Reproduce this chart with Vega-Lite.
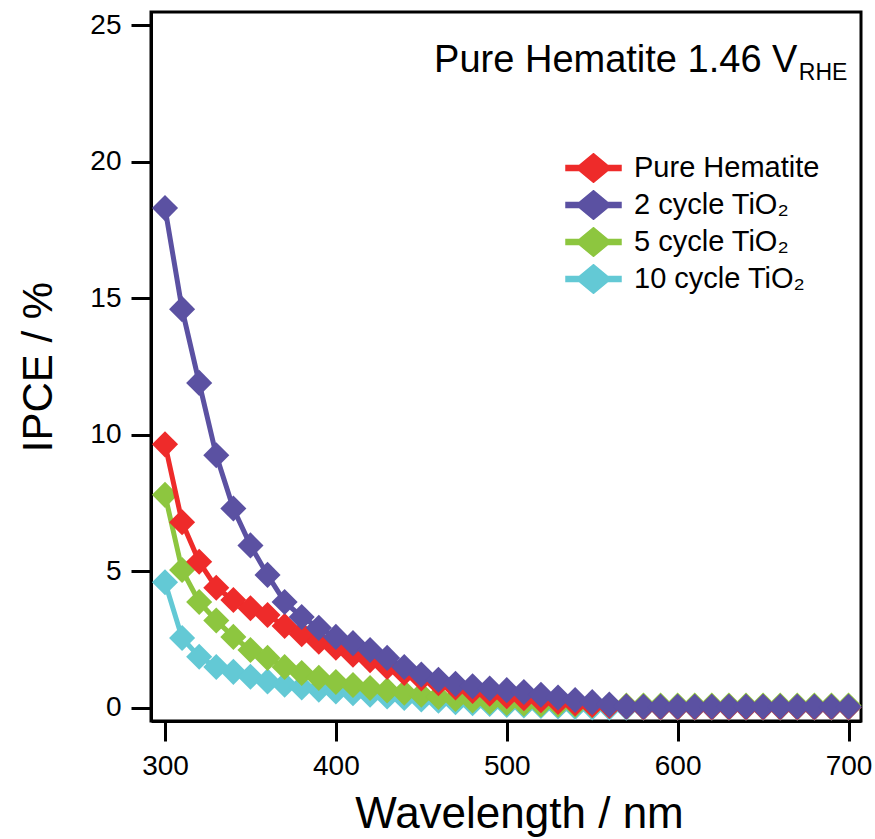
{
"$schema": "https://vega.github.io/schema/vega-lite/v6.json",
"width": 710, "height": 709,
"autosize": {"type": "none"},
"padding": {"left": 151, "top": 12, "right": 14, "bottom": 118},
"background": "white",
"config": {
  "font": "Liberation Sans",
  "view": {"stroke": "black", "strokeWidth": 3},
  "axis": {"grid": false, "domainColor": "black", "domainWidth": 3, "tickColor": "black", "tickWidth": 3, "tickSize": 20, "labelFontSize": 28, "labelColor": "black", "titleFontWeight": "normal", "titleColor": "black"},
  "axisY": {"titlePadding": 29, "labelPadding": 10, "titleFontSize": 42},
  "axisX": {"titlePadding": 12, "labelPadding": 11, "titleFontSize": 44, "titleX": 368}
},
"datasets": {
"d": [
{"s":"Pure Hematite","w":300,"v":9.65},{"s":"Pure Hematite","w":310,"v":6.8},{"s":"Pure Hematite","w":320,"v":5.35},{"s":"Pure Hematite","w":330,"v":4.4},{"s":"Pure Hematite","w":340,"v":3.95},{"s":"Pure Hematite","w":350,"v":3.65},{"s":"Pure Hematite","w":360,"v":3.4},{"s":"Pure Hematite","w":370,"v":3.0},{"s":"Pure Hematite","w":380,"v":2.7},{"s":"Pure Hematite","w":390,"v":2.42},{"s":"Pure Hematite","w":400,"v":2.2},{"s":"Pure Hematite","w":410,"v":1.95},{"s":"Pure Hematite","w":420,"v":1.75},{"s":"Pure Hematite","w":430,"v":1.5},{"s":"Pure Hematite","w":440,"v":1.28},{"s":"Pure Hematite","w":450,"v":1.08},{"s":"Pure Hematite","w":460,"v":0.9},{"s":"Pure Hematite","w":470,"v":0.75},{"s":"Pure Hematite","w":480,"v":0.62},{"s":"Pure Hematite","w":490,"v":0.52},{"s":"Pure Hematite","w":500,"v":0.43},{"s":"Pure Hematite","w":510,"v":0.35},{"s":"Pure Hematite","w":520,"v":0.28},{"s":"Pure Hematite","w":530,"v":0.22},{"s":"Pure Hematite","w":540,"v":0.16},{"s":"Pure Hematite","w":550,"v":0.11},{"s":"Pure Hematite","w":560,"v":0.07},{"s":"Pure Hematite","w":570,"v":0.04},{"s":"Pure Hematite","w":580,"v":0.02},{"s":"Pure Hematite","w":590,"v":0.02},{"s":"Pure Hematite","w":600,"v":0.02},{"s":"Pure Hematite","w":610,"v":0.02},{"s":"Pure Hematite","w":620,"v":0.02},{"s":"Pure Hematite","w":630,"v":0.02},{"s":"Pure Hematite","w":640,"v":0.02},{"s":"Pure Hematite","w":650,"v":0.02},{"s":"Pure Hematite","w":660,"v":0.02},{"s":"Pure Hematite","w":670,"v":0.02},{"s":"Pure Hematite","w":680,"v":0.02},{"s":"Pure Hematite","w":690,"v":0.02},{"s":"Pure Hematite","w":700,"v":0.02},
{"s":"2 cycle TiO₂","w":300,"v":18.3},{"s":"2 cycle TiO₂","w":310,"v":14.6},{"s":"2 cycle TiO₂","w":320,"v":11.9},{"s":"2 cycle TiO₂","w":330,"v":9.25},{"s":"2 cycle TiO₂","w":340,"v":7.3},{"s":"2 cycle TiO₂","w":350,"v":5.95},{"s":"2 cycle TiO₂","w":360,"v":4.87},{"s":"2 cycle TiO₂","w":370,"v":3.88},{"s":"2 cycle TiO₂","w":380,"v":3.33},{"s":"2 cycle TiO₂","w":390,"v":2.93},{"s":"2 cycle TiO₂","w":400,"v":2.6},{"s":"2 cycle TiO₂","w":410,"v":2.37},{"s":"2 cycle TiO₂","w":420,"v":2.12},{"s":"2 cycle TiO₂","w":430,"v":1.83},{"s":"2 cycle TiO₂","w":440,"v":1.5},{"s":"2 cycle TiO₂","w":450,"v":1.22},{"s":"2 cycle TiO₂","w":460,"v":1.03},{"s":"2 cycle TiO₂","w":470,"v":0.88},{"s":"2 cycle TiO₂","w":480,"v":0.79},{"s":"2 cycle TiO₂","w":490,"v":0.71},{"s":"2 cycle TiO₂","w":500,"v":0.65},{"s":"2 cycle TiO₂","w":510,"v":0.58},{"s":"2 cycle TiO₂","w":520,"v":0.48},{"s":"2 cycle TiO₂","w":530,"v":0.38},{"s":"2 cycle TiO₂","w":540,"v":0.29},{"s":"2 cycle TiO₂","w":550,"v":0.21},{"s":"2 cycle TiO₂","w":560,"v":0.12},{"s":"2 cycle TiO₂","w":570,"v":0.05},{"s":"2 cycle TiO₂","w":580,"v":0.04},{"s":"2 cycle TiO₂","w":590,"v":0.04},{"s":"2 cycle TiO₂","w":600,"v":0.04},{"s":"2 cycle TiO₂","w":610,"v":0.04},{"s":"2 cycle TiO₂","w":620,"v":0.04},{"s":"2 cycle TiO₂","w":630,"v":0.04},{"s":"2 cycle TiO₂","w":640,"v":0.04},{"s":"2 cycle TiO₂","w":650,"v":0.04},{"s":"2 cycle TiO₂","w":660,"v":0.04},{"s":"2 cycle TiO₂","w":670,"v":0.04},{"s":"2 cycle TiO₂","w":680,"v":0.04},{"s":"2 cycle TiO₂","w":690,"v":0.04},{"s":"2 cycle TiO₂","w":700,"v":0.04},
{"s":"5 cycle TiO₂","w":300,"v":7.8},{"s":"5 cycle TiO₂","w":310,"v":5.05},{"s":"5 cycle TiO₂","w":320,"v":3.88},{"s":"5 cycle TiO₂","w":330,"v":3.2},{"s":"5 cycle TiO₂","w":340,"v":2.6},{"s":"5 cycle TiO₂","w":350,"v":2.12},{"s":"5 cycle TiO₂","w":360,"v":1.83},{"s":"5 cycle TiO₂","w":370,"v":1.5},{"s":"5 cycle TiO₂","w":380,"v":1.28},{"s":"5 cycle TiO₂","w":390,"v":1.1},{"s":"5 cycle TiO₂","w":400,"v":0.95},{"s":"5 cycle TiO₂","w":410,"v":0.84},{"s":"5 cycle TiO₂","w":420,"v":0.73},{"s":"5 cycle TiO₂","w":430,"v":0.64},{"s":"5 cycle TiO₂","w":440,"v":0.56},{"s":"5 cycle TiO₂","w":450,"v":0.48},{"s":"5 cycle TiO₂","w":460,"v":0.4},{"s":"5 cycle TiO₂","w":470,"v":0.33},{"s":"5 cycle TiO₂","w":480,"v":0.27},{"s":"5 cycle TiO₂","w":490,"v":0.22},{"s":"5 cycle TiO₂","w":500,"v":0.18},{"s":"5 cycle TiO₂","w":510,"v":0.15},{"s":"5 cycle TiO₂","w":520,"v":0.13},{"s":"5 cycle TiO₂","w":530,"v":0.12},{"s":"5 cycle TiO₂","w":540,"v":0.11},{"s":"5 cycle TiO₂","w":550,"v":0.1},{"s":"5 cycle TiO₂","w":560,"v":0.09},{"s":"5 cycle TiO₂","w":570,"v":0.09},{"s":"5 cycle TiO₂","w":580,"v":0.09},{"s":"5 cycle TiO₂","w":590,"v":0.09},{"s":"5 cycle TiO₂","w":600,"v":0.09},{"s":"5 cycle TiO₂","w":610,"v":0.09},{"s":"5 cycle TiO₂","w":620,"v":0.09},{"s":"5 cycle TiO₂","w":630,"v":0.09},{"s":"5 cycle TiO₂","w":640,"v":0.09},{"s":"5 cycle TiO₂","w":650,"v":0.09},{"s":"5 cycle TiO₂","w":660,"v":0.09},{"s":"5 cycle TiO₂","w":670,"v":0.09},{"s":"5 cycle TiO₂","w":680,"v":0.09},{"s":"5 cycle TiO₂","w":690,"v":0.09},{"s":"5 cycle TiO₂","w":700,"v":0.09},
{"s":"10 cycle TiO₂","w":300,"v":4.6},{"s":"10 cycle TiO₂","w":310,"v":2.56},{"s":"10 cycle TiO₂","w":320,"v":1.87},{"s":"10 cycle TiO₂","w":330,"v":1.5},{"s":"10 cycle TiO₂","w":340,"v":1.32},{"s":"10 cycle TiO₂","w":350,"v":1.14},{"s":"10 cycle TiO₂","w":360,"v":0.97},{"s":"10 cycle TiO₂","w":370,"v":0.85},{"s":"10 cycle TiO₂","w":380,"v":0.75},{"s":"10 cycle TiO₂","w":390,"v":0.67},{"s":"10 cycle TiO₂","w":400,"v":0.6},{"s":"10 cycle TiO₂","w":410,"v":0.54},{"s":"10 cycle TiO₂","w":420,"v":0.48},{"s":"10 cycle TiO₂","w":430,"v":0.42},{"s":"10 cycle TiO₂","w":440,"v":0.36},{"s":"10 cycle TiO₂","w":450,"v":0.31},{"s":"10 cycle TiO₂","w":460,"v":0.26},{"s":"10 cycle TiO₂","w":470,"v":0.21},{"s":"10 cycle TiO₂","w":480,"v":0.17},{"s":"10 cycle TiO₂","w":490,"v":0.14},{"s":"10 cycle TiO₂","w":500,"v":0.11},{"s":"10 cycle TiO₂","w":510,"v":0.09},{"s":"10 cycle TiO₂","w":520,"v":0.07},{"s":"10 cycle TiO₂","w":530,"v":0.05},{"s":"10 cycle TiO₂","w":540,"v":0.03},{"s":"10 cycle TiO₂","w":550,"v":0.02},{"s":"10 cycle TiO₂","w":560,"v":0.01},{"s":"10 cycle TiO₂","w":570,"v":0.01},{"s":"10 cycle TiO₂","w":580,"v":0.01},{"s":"10 cycle TiO₂","w":590,"v":0.01},{"s":"10 cycle TiO₂","w":600,"v":0.01},{"s":"10 cycle TiO₂","w":610,"v":0.01},{"s":"10 cycle TiO₂","w":620,"v":0.01},{"s":"10 cycle TiO₂","w":630,"v":0.01},{"s":"10 cycle TiO₂","w":640,"v":0.01},{"s":"10 cycle TiO₂","w":650,"v":0.01},{"s":"10 cycle TiO₂","w":660,"v":0.01},{"s":"10 cycle TiO₂","w":670,"v":0.01},{"s":"10 cycle TiO₂","w":680,"v":0.01},{"s":"10 cycle TiO₂","w":690,"v":0.01},{"s":"10 cycle TiO₂","w":700,"v":0.01}
]
},
"layer": [
  {
    "data": {"name": "d"},
    "encoding": {
      "x": {"field": "w", "type": "quantitative", "scale": {"domain": [291.8, 707.3], "nice": false, "zero": false}, "axis": {"values": [300, 400, 500, 600, 700], "title": "Wavelength / nm"}},
      "y": {"field": "v", "type": "quantitative", "scale": {"domain": [-0.48, 25.48], "nice": false, "zero": false}, "axis": {"values": [0, 5, 10, 15, 20, 25], "title": "IPCE / %"}},
      "color": {"field": "s", "type": "nominal",
        "scale": {"domain": ["Pure Hematite", "2 cycle TiO₂", "5 cycle TiO₂", "10 cycle TiO₂"], "range": ["#EE2B2A", "#5B51A2", "#8DC63F", "#63C9D5"]},
        "legend": {"orient": "none", "legendX": 414, "legendY": 141, "title": null, "labelFontSize": 29, "labelColor": "black", "labelOffset": 12, "labelLimit": 0,
          "symbolType": "M-1,-0.09L-0.52,-0.09L0,-0.52L0.52,-0.09L1,-0.09L1,0.09L0.52,0.09L0,0.52L-0.52,0.09L-1,0.09Z",
          "symbolSize": 3025, "clipHeight": 30, "rowPadding": 7,
          "encode": {"symbols": {"update": {"fill": {"scale": "color", "field": "value"}, "stroke": {"value": "transparent"}, "opacity": {"value": 1}}}}}}
    },
    "layer": [
      {"transform": [{"filter": {"field": "s", "equal": "10 cycle TiO₂"}}], "mark": {"type": "line", "strokeWidth": 5, "point": {"filled": true, "shape": "diamond", "size": 680, "opacity": 1}}},
      {"transform": [{"filter": {"field": "s", "equal": "5 cycle TiO₂"}}], "mark": {"type": "line", "strokeWidth": 5, "point": {"filled": true, "shape": "diamond", "size": 680, "opacity": 1}}},
      {"transform": [{"filter": {"field": "s", "equal": "Pure Hematite"}}], "mark": {"type": "line", "strokeWidth": 5, "point": {"filled": true, "shape": "diamond", "size": 680, "opacity": 1}}},
      {"transform": [{"filter": {"field": "s", "equal": "2 cycle TiO₂"}}], "mark": {"type": "line", "strokeWidth": 5, "point": {"filled": true, "shape": "diamond", "size": 680, "opacity": 1}}}
    ]
  },
  {
    "data": {"values": [{}]},
    "mark": {"type": "text", "align": "right", "baseline": "alphabetic", "fontSize": 38, "color": "black"},
    "encoding": {"x": {"datum": 670.1, "type": "quantitative"}, "y": {"datum": 23.28, "type": "quantitative"}, "text": {"value": "Pure Hematite 1.46 V"}}
  },
  {
    "data": {"values": [{}]},
    "mark": {"type": "text", "align": "left", "baseline": "alphabetic", "fontSize": 23, "color": "black"},
    "encoding": {"x": {"datum": 670.9, "type": "quantitative"}, "y": {"datum": 22.98, "type": "quantitative"}, "text": {"value": "RHE"}}
  }
]
}
